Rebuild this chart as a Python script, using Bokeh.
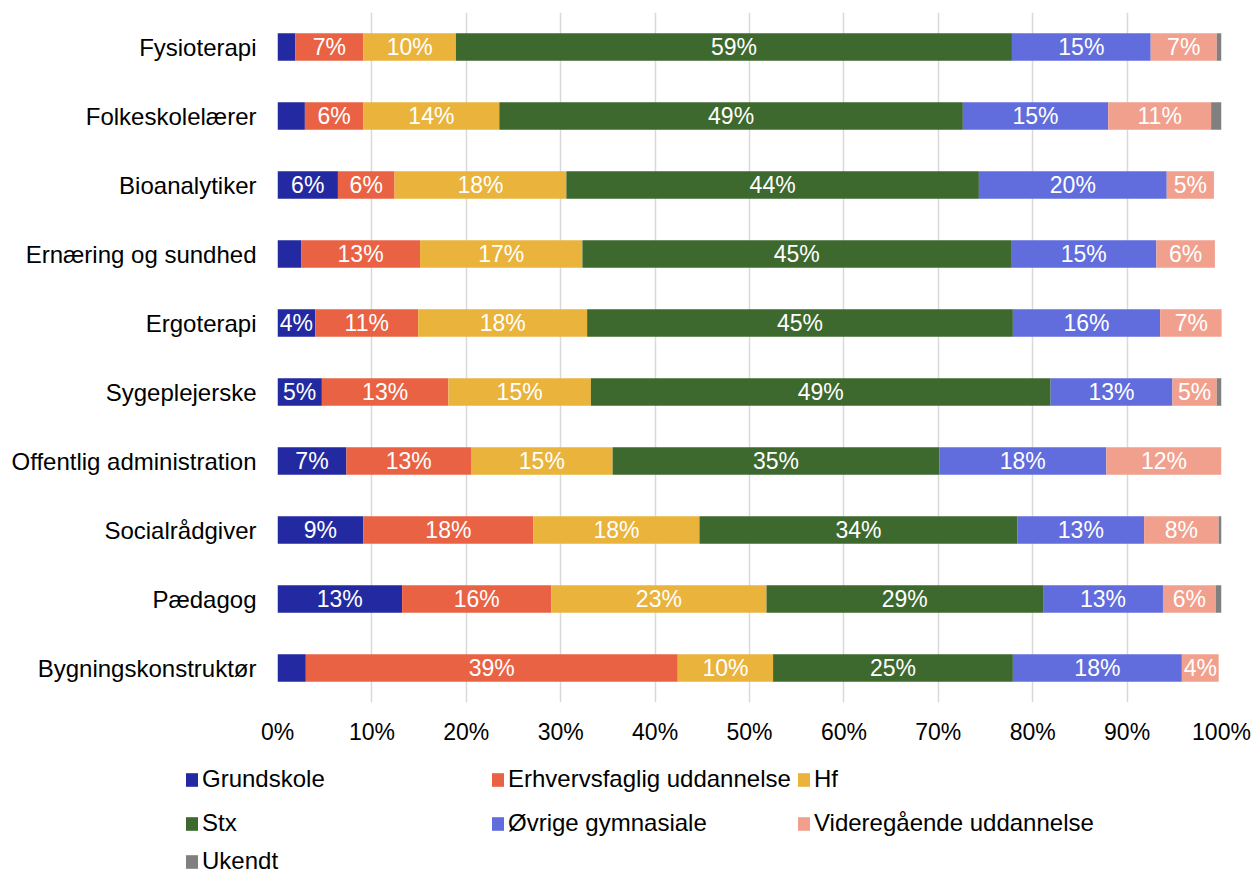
from bokeh.plotting import figure
from bokeh.models import (ColumnDataSource, FactorRange, Range1d, FixedTicker,
                          PrintfTickFormatter, Legend, LegendItem)
from bokeh.core.properties import value
from bokeh.embed import file_html
from bokeh.resources import INLINE

# ---------------- data (percent) ----------------
categories = ["Fysioterapi", "Folkeskolelærer", "Bioanalytiker", "Ernæring og sundhed",
              "Ergoterapi", "Sygeplejerske", "Offentlig administration",
              "Socialrådgiver", "Pædagog", "Bygningskonstruktør"]

series_names = ["Grundskole", "Erhvervsfaglig uddannelse", "Hf", "Stx",
                "Øvrige gymnasiale", "Videregående uddannelse", "Ukendt"]

grundskole = [1.9, 2.9, 6.4, 2.5, 4.0, 4.7, 7.3, 9.1, 13.2, 3.0]
erhverv    = [7.2, 6.2, 6.0, 12.6, 10.9, 13.4, 13.2, 18.0, 15.8, 39.4]
hf         = [9.8, 14.4, 18.2, 17.2, 17.9, 15.1, 15.0, 17.6, 22.8, 10.1]
stx        = [58.9, 49.1, 43.7, 45.4, 45.1, 48.7, 34.6, 33.7, 29.3, 25.4]
ovrige     = [14.7, 15.4, 19.9, 15.4, 15.6, 12.9, 17.7, 13.4, 12.7, 17.9]
videre     = [7.0, 10.9, 5.0, 6.2, 6.6, 4.7, 12.2, 7.9, 5.6, 3.9]
ukendt     = [0.5, 1.1, 0.0, 0.0, 0.0, 0.5, 0.0, 0.3, 0.6, 0.0]

x_ticks = [0, 10, 20, 30, 40, 50, 60, 70, 80, 90, 100]

colors = ["#2329A0", "#E96244", "#E9B33C", "#3D682E", "#616CDD", "#F1A08E", "#808080"]

FONT = "Liberation Sans"

keys = ["grundskole", "erhverv", "hf", "stx", "ovrige", "videre", "ukendt"]
series = [grundskole, erhverv, hf, stx, ovrige, videre, ukendt]
src = ColumnDataSource(dict(cat=categories, **{k: v for k, v in zip(keys, series)}))

W = 1253
MAIN_H = 752
p = figure(width=W, height=MAIN_H,
           y_range=FactorRange(factors=categories[::-1]),
           x_range=Range1d(0, 100),
           output_backend="svg", toolbar_location=None,
           min_border_left=277, min_border_right=32,
           min_border_top=12, min_border_bottom=50)

renderers = p.hbar_stack(keys, y="cat", height=0.4, color=colors, source=src,
                         line_width=0)

# labels inside the bars
lx, ly, lt = [], [], []
for i, cat in enumerate(categories):
    left = 0.0
    for s_idx, vals in enumerate(series):
        v = vals[i]
        if s_idx < 6 and v >= 3.5:
            lx.append(left + v / 2.0)
            ly.append(cat)
            lt.append(f"{round(v):.0f}%")
        left += v
lab_src = ColumnDataSource(dict(x=lx, y=ly, t=lt))
p.text(x="x", y="y", text="t", source=lab_src, text_color="white",
       text_align="center", text_baseline="middle",
       text_font=value(FONT), text_font_size="23px")

# axes
p.xaxis.ticker = FixedTicker(ticks=x_ticks)
p.xaxis.formatter = PrintfTickFormatter(format="%d%%")
for ax in (p.xaxis[0], p.yaxis[0]):
    ax.axis_line_color = None
    ax.major_tick_line_color = None
    ax.minor_tick_line_color = None
    ax.major_label_text_font = FONT
    ax.major_label_text_color = "black"
p.xaxis.major_label_text_font_size = "23px"
p.xaxis.major_label_standoff = 10
p.yaxis.major_label_text_font_size = "24px"
p.yaxis.major_label_standoff = 15

p.xgrid.grid_line_color = "#d9d9d9"
p.xgrid.grid_line_width = 1.5
p.ygrid.grid_line_color = None
p.outline_line_color = None

# ---------------- legend strip (separate root below the chart) ----------------
LH = 874 - MAIN_H
pl = figure(width=W, height=LH, x_range=Range1d(0, 1), y_range=Range1d(0, 1),
            x_axis_type=None, y_axis_type=None, output_backend="svg",
            toolbar_location=None, min_border=0)
pl.grid.grid_line_color = None
pl.outline_line_color = None

# legend swatches (one bar each, placed outside the strip's visible ranges)
leg_renderers = []
for c in colors:
    leg_renderers.append(pl.hbar(y=[50], left=[50], right=[60], height=0.4,
                                 color=c, line_width=0))

rows = [[0, 1, 2], [3, 4, 5], [6]]
row_vy = [81, 37, -1]
for row, vy in zip(rows, row_vy):
    items = [LegendItem(label=series_names[j], renderers=[leg_renderers[j]]) for j in row]
    leg = Legend(items=items, orientation="horizontal", location=(184, vy),
                 glyph_width=15, glyph_height=17, label_standoff=3,
                 label_width=283, label_height=28, spacing=5,
                 padding=0, margin=0, border_line_color=None,
                 background_fill_alpha=0,
                 label_text_font=FONT, label_text_font_size="24px",
                 label_text_color="black")
    pl.add_layout(leg)

open("out.html", "w").write(file_html([p, pl], INLINE))
